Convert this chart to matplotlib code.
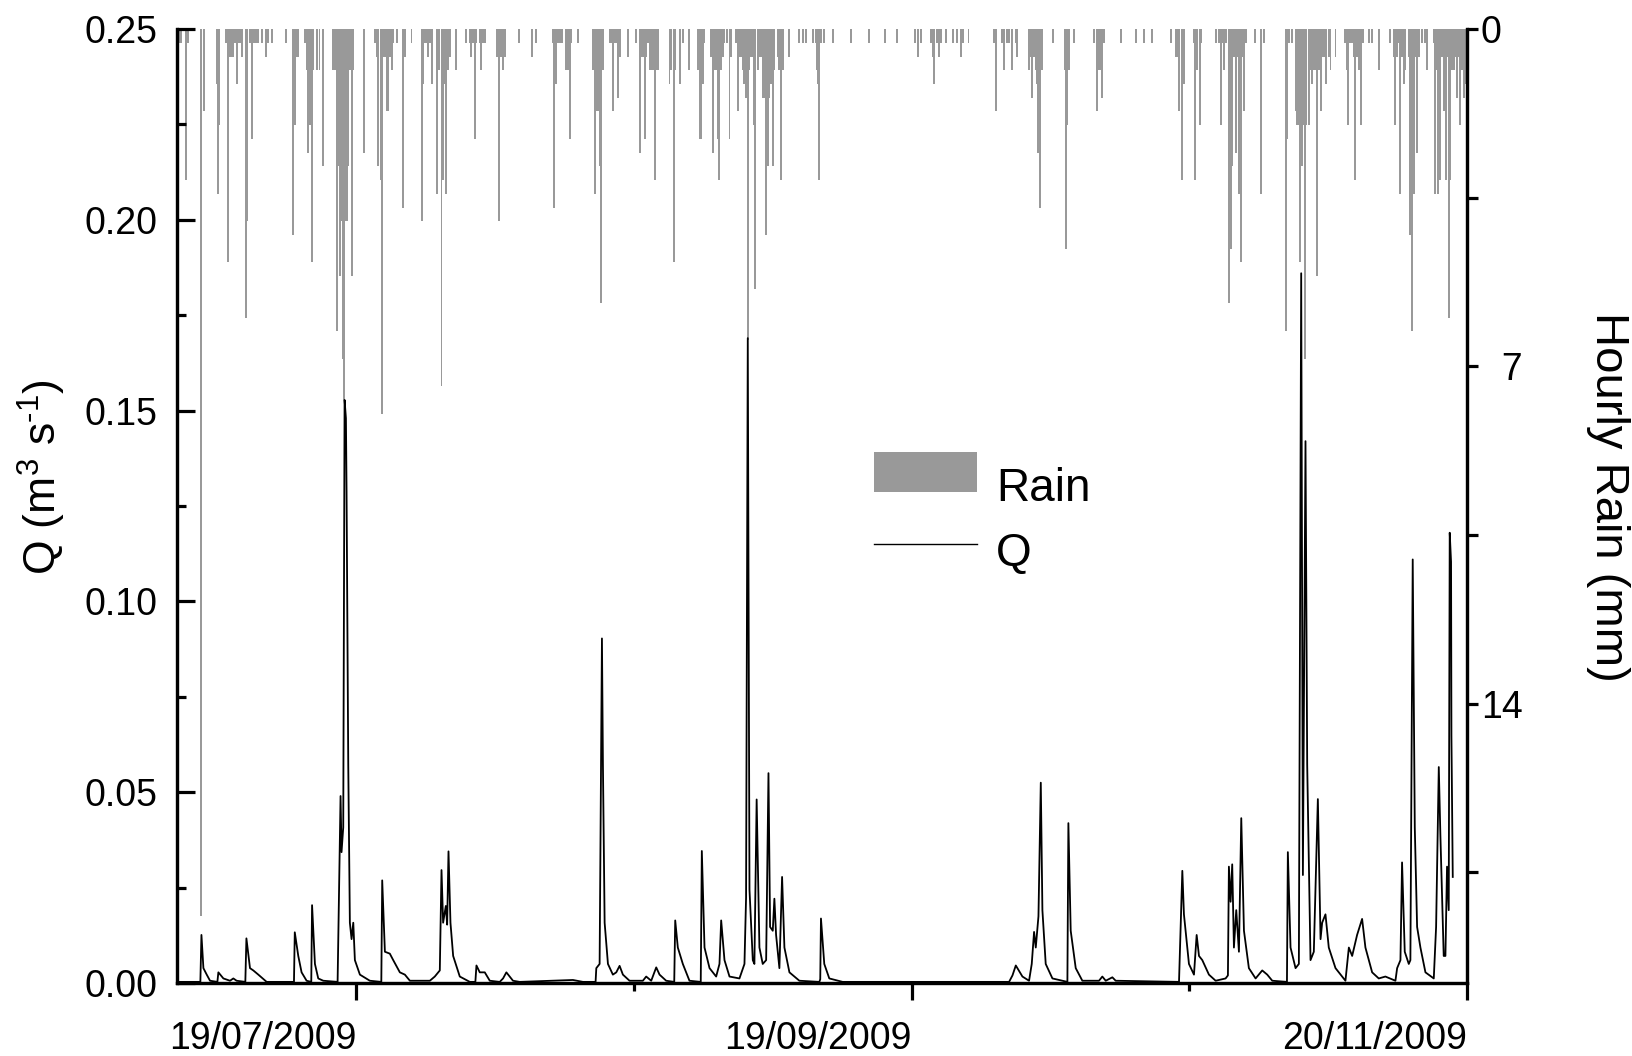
import numpy as np
import matplotlib
matplotlib.use("Agg")
import matplotlib.pyplot as plt
import matplotlib.dates as mdates
from matplotlib.patches import Patch, Rectangle
from matplotlib.lines import Line2D
from matplotlib.legend_handler import HandlerPatch, HandlerLine2D
from matplotlib.ticker import FixedLocator, FixedFormatter, MultipleLocator
from datetime import datetime

plt.rcParams['font.family'] = ['Liberation Sans', 'DejaVu Sans']
plt.rcParams['mathtext.fontset'] = 'custom'
plt.rcParams['mathtext.rm'] = 'Liberation Sans'
plt.rcParams['mathtext.it'] = 'Liberation Sans:italic'

# times are days after 29/06/2009 00:00
rain_day = [
    0.2, 0.45, 1.0, 1.2, 2.68, 3.0,
    4.42, 4.54, 4.65, 5.46, 5.65, 5.72, 5.91, 6.1, 6.28, 6.47, 6.65,
    6.84, 7.06, 7.25, 7.7, 7.84, 8.14, 8.36, 8.55, 8.8, 9.05,
    9.44, 9.89, 10.19, 10.56, 12.16, 12.9, 12.97, 13.16, 13.35, 13.53,
    14.28, 14.53, 14.65, 14.83, 15.02, 15.2, 15.6, 15.9, 16.32,
    17.43, 17.62, 17.81, 17.99, 18.18, 18.36, 18.48, 18.55, 18.66, 18.81, 18.92, 19.11, 19.29, 19.48, 19.67,
    20.9, 22.08, 22.27, 22.45, 22.71, 22.83, 23.01, 23.2, 23.38, 23.57, 23.75, 23.94, 24.13,
    24.5, 25.24, 25.43, 26.17, 27.29, 27.47, 27.66, 27.84, 28.03, 28.22, 28.51,
    28.96, 29.07, 29.26, 29.52, 29.7, 29.89, 30.07, 30.26, 30.45, 31.19, 32.23,
    32.68, 32.86, 33.05, 33.23, 33.42, 33.79, 33.98, 34.16, 34.35,
    35.75, 35.95, 36.15, 36.39, 36.6, 38.17, 39.62, 40.1,
    41.96, 42.07, 42.33, 42.52, 42.71, 43.0, 43.45, 43.64, 43.82, 44.01, 44.75,
    46.42, 46.61, 46.8, 46.98, 47.17, 47.35, 47.54,
    48.36, 48.51, 48.65, 48.84, 49.03, 49.21, 49.4, 50.33,
    51.26, 51.63, 51.81, 52.0, 52.19, 52.37, 52.56, 52.74, 52.93, 53.12, 53.3, 53.49, 53.67,
    54.97, 55.16, 55.42, 55.64, 56.09, 56.46, 57.2,
    58.13, 58.32, 58.51, 58.69, 58.88, 59.62, 59.81, 60.0, 60.18, 60.37, 60.55, 60.74, 60.92,
    61.11, 61.37, 61.67, 61.85,
    62.41, 62.6, 62.78, 62.97, 63.15, 63.34, 63.52, 63.71, 63.9, 64.08, 64.27, 64.45, 64.57,
    64.83, 65.01, 65.2, 65.38, 65.57, 65.76, 65.94, 66.13, 66.31, 66.5, 66.68,
    67.06, 67.24, 67.43, 67.61, 68.36, 69.47, 69.84, 70.22, 70.96, 71.33,
    71.4, 71.51, 71.62, 71.7, 71.88, 72.25, 73.18, 75.23, 77.27, 79.06, 80.32,
    82.4, 82.66, 83.03, 84.15, 84.34, 84.52, 84.78, 85.08, 85.26,
    85.82, 86.64, 87.12, 87.49, 87.75, 88.35,
    91.21, 91.4, 92.14, 92.33, 92.7, 92.89, 93.26, 93.63, 93.81,
    95.11, 95.3, 95.49, 95.67, 95.86, 96.05, 96.16, 96.34, 96.53, 97.79,
    99.13, 99.2, 99.39, 99.58, 100.13, 102.36, 102.74, 102.92, 103.11, 103.29, 103.48, 105.34, 107.01,
    107.94, 108.87, 110.92, 111.47, 111.66, 111.85, 112.14, 112.4,
    113.52, 113.63, 113.89, 114.15, 114.26,
    115.94, 116.31, 116.49, 116.68, 116.86, 117.05, 117.42, 117.61, 117.79, 117.98, 118.17, 118.35, 118.54, 118.72, 118.91, 119.1, 119.28,
    120.32, 120.95, 121.33,
    123.74, 123.82, 123.93, 124.11, 124.49, 124.86, 125.04, 125.23, 125.3, 125.41, 125.6, 125.79, 125.9, 126.08, 126.34,
    126.53, 126.72, 126.9, 127.09, 127.27, 127.46, 127.65, 127.83, 128.02, 128.31, 128.57, 128.76, 129.32,
    130.43, 130.62, 130.73, 130.99, 131.18, 131.36, 131.55, 131.73, 131.92, 132.18, 132.4, 133.04, 133.41, 134.15,
    135.45, 135.83, 136.01, 136.2, 136.38, 136.57, 136.75, 136.94, 137.12,
    137.5, 137.68, 137.87, 138.05, 138.24, 138.43, 138.61, 138.98, 139.28, 139.54,
    140.29, 140.4, 140.58, 140.77, 141.03, 141.22, 141.4, 141.66, 141.85, 141.96, 142.15,
    142.33, 142.52, 142.71, 142.89, 143.08, 143.26, 143.45, 143.63, 143.82, 143.93,
]
rain_mm = [
    0.29, 0.29, 3.14, 0.29, 18.4, 1.71,
    1.14, 3.42, 2.0, 0.29, 0.29, 4.84, 0.57, 0.57, 0.57, 0.29, 1.14,
    0.29, 0.29, 0.57, 5.99, 3.99, 0.29, 2.28, 0.29, 0.29, 0.29,
    0.29, 0.57, 0.29, 0.29, 0.29, 0.57, 4.28, 2.0, 0.57, 0.57,
    0.29, 0.86, 2.57, 2.0, 4.84, 0.86, 0.86, 0.86, 2.85,
    0.86, 0.86, 6.27, 2.85, 5.13, 3.99, 3.99, 6.84, 7.7, 3.99, 3.99, 2.85, 0.86, 5.13, 0.86,
    2.57, 0.29, 0.57, 2.85, 3.14, 7.98, 0.57, 0.57, 1.71, 1.71, 0.57, 0.86, 0.29,
    0.29, 3.71, 0.57, 0.29, 3.99, 1.14, 0.29, 0.29, 0.57, 0.29, 1.14,
    0.86, 3.42, 0.86, 7.41, 3.14, 1.14, 3.42, 0.86, 0.57, 0.86, 0.29,
    0.29, 0.57, 0.29, 2.28, 0.29, 0.29, 0.86, 0.29, 0.29,
    0.57, 3.99, 0.57, 0.86, 0.57, 0.29, 0.57, 0.29,
    0.29, 3.71, 1.14, 0.29, 0.29, 0.29, 0.86, 0.86, 2.28, 0.29, 0.29,
    0.86, 3.42, 1.71, 1.71, 2.85, 5.68, 0.86,
    0.29, 0.29, 1.71, 0.29, 0.29, 1.43, 0.57, 0.57,
    0.29, 2.57, 0.57, 0.57, 2.28, 0.57, 0.29, 0.86, 0.86, 0.86, 3.14, 0.86, 0.86,
    1.14, 0.86, 4.84, 0.86, 1.14, 0.29, 0.86,
    0.86, 2.28, 2.28, 1.14, 0.29, 0.57, 2.57, 0.86, 0.86, 2.28, 3.14, 0.86, 0.57,
    0.29, 0.29, 2.28, 0.57,
    0.29, 1.71, 0.57, 0.57, 0.86, 1.14, 1.43, 6.46, 0.86, 0.57, 0.57, 2.0, 5.4,
    0.86, 0.57, 0.57, 1.43, 1.43, 4.28, 2.85, 1.43, 1.14, 2.85, 0.86,
    0.57, 0.86, 3.14, 0.86, 0.57, 0.29, 0.29, 0.29, 0.29, 0.29,
    0.86, 1.14, 2.28, 3.14, 0.29, 0.29, 0.29, 0.29, 0.29, 0.29, 0.29,
    0.29, 0.57, 0.29, 0.29, 0.57, 1.14, 0.29, 0.57, 0.29,
    0.29, 0.29, 0.29, 0.57, 0.29, 0.29,
    0.29, 1.71, 0.29, 0.86, 0.29, 0.29, 0.86, 0.29, 0.57,
    0.86, 0.57, 1.43, 0.57, 0.86, 1.14, 2.57, 3.71, 0.86, 0.29,
    0.86, 4.56, 2.0, 0.86, 0.29, 0.29, 1.71, 0.86, 0.86, 1.43, 0.29, 0.29, 0.29,
    0.29, 0.29, 0.29, 0.57, 0.57, 1.71, 3.14, 1.14,
    0.29, 3.14, 0.86, 2.0, 0.29,
    0.29, 0.29, 2.0, 0.29, 0.86, 0.29, 5.68, 4.56, 2.85, 0.57, 2.57, 0.57, 3.42, 4.84, 0.57, 1.71, 0.29,
    0.29, 3.42, 0.29,
    0.29, 6.27, 2.28, 0.29, 0.29, 1.71, 2.0, 2.0, 4.56, 4.84, 2.85, 2.0, 6.84, 2.0, 2.0,
    0.86, 1.14, 0.86, 0.86, 5.13, 0.86, 1.71, 0.57, 0.57, 1.14, 0.57, 0.86, 0.57,
    0.29, 0.86, 2.0, 0.29, 0.29, 0.57, 3.14, 0.57, 0.86, 2.0, 0.29, 0.29, 0.29, 0.86,
    0.29, 0.57, 2.0, 0.57, 0.29, 3.42, 0.57, 1.14, 0.86,
    0.57, 4.28, 6.27, 3.42, 0.57, 2.57, 0.57, 0.29, 0.29, 0.86,
    0.29, 3.42, 0.86, 3.42, 3.14, 0.57, 1.71, 3.14, 0.57, 5.99, 3.14,
    0.86, 0.86, 0.57, 1.43, 0.57, 2.0, 0.86, 1.43, 1.14, 1.14,
]

q_day = [
    0.0, 2.6, 2.72, 2.94, 3.31, 3.68, 4.5, 4.61, 5.17, 5.91, 6.28, 6.65,
    7.62, 7.74, 8.14, 8.51, 9.07, 10.0, 13.05, 13.14, 13.53, 13.9, 14.46,
    14.98, 15.07, 15.39, 15.76, 16.32, 17.92, 18.25, 18.36, 18.55, 18.7,
    18.85, 18.92, 19.11, 19.29, 19.48, 19.67, 19.85, 20.41, 21.52,
    22.8, 22.9, 23.2, 23.75, 24.13, 24.87, 25.43, 25.99, 28.22, 28.77,
    29.33, 29.52, 29.7, 30.0, 30.15, 30.3, 30.52, 30.82, 31.56, 32.68,
    33.3, 33.42, 33.79, 34.35, 34.91, 36.02, 36.39, 36.76, 37.5, 38.25,
    44.19, 45.31, 46.72, 46.8, 47.17, 47.43, 47.54, 47.73, 48.1, 48.65,
    49.03, 49.4, 49.77, 50.51, 52.0, 52.37, 52.93, 53.49, 53.86, 54.6,
    55.5, 55.61, 55.9, 56.46, 57.2, 58.46, 58.58, 58.88, 59.44, 60.18,
    60.55, 60.74, 61.11, 61.67, 62.78, 63.34, 63.52, 63.71, 63.9, 64.27,
    64.45, 64.7, 65.01, 65.38, 65.76, 66.02, 66.2, 66.5, 66.68, 66.87,
    67.24, 67.54, 67.8, 68.36, 69.47, 71.7, 71.8, 71.88, 72.25, 72.81,
    74.3, 92.88, 93.26, 93.63, 94.37, 95.11, 95.41, 95.67, 95.86, 96.16,
    96.42, 96.6, 96.97, 97.72, 99.39, 99.5, 99.76, 100.32, 101.06,
    102.92, 103.29, 103.67, 104.41, 104.78, 111.85, 112.22, 112.4,
    112.96, 113.52, 113.82, 114.08, 114.45, 115.19, 115.94, 117.05,
    117.31, 117.42, 117.61, 117.79, 117.98, 118.24, 118.54, 118.8, 119.1,
    119.65, 120.4, 121.14, 121.7, 122.26, 123.9, 124.0, 124.3, 124.86,
    125.23, 125.49, 125.68, 125.97, 126.16, 126.53, 126.9, 127.35,
    127.65, 127.83, 128.2, 128.57, 129.32, 130.43, 130.81, 131.18,
    131.73, 132.29, 132.66, 133.41, 134.15, 134.89, 136.01, 136.2,
    136.57, 136.75, 137.05, 137.5, 137.68, 137.94, 138.17, 138.43,
    138.8, 139.36, 140.29, 140.55, 140.85, 141.03, 141.4, 141.59,
    141.77, 141.96, 142.07, 142.22, 142.26, 142.41,
]
q_val = [
    0.0003, 0.0003, 0.0126, 0.0039, 0.0022, 0.0006, 0.0003, 0.0028, 0.0012, 0.0006, 0.0012, 0.0006,
    0.0003, 0.0117, 0.0039, 0.0033, 0.0022, 0.0003, 0.0003, 0.0133, 0.0071, 0.0028, 0.0006,
    0.0003, 0.0204, 0.0050, 0.0012, 0.0006, 0.0003, 0.0490, 0.0343, 0.0408, 0.1528,
    0.1480, 0.1289, 0.0572, 0.0158, 0.0115, 0.0158, 0.0060, 0.0022, 0.0006,
    0.0003, 0.0269, 0.0082, 0.0077, 0.0060, 0.0028, 0.0022, 0.0006, 0.0006, 0.0017,
    0.0033, 0.0296, 0.0158, 0.0202, 0.0153, 0.0345, 0.0158, 0.0071, 0.0017, 0.0003,
    0.0003, 0.0046, 0.0028, 0.0028, 0.0006, 0.0003, 0.0012, 0.0028, 0.0006, 0.0003,
    0.0008, 0.0003, 0.0003, 0.0039, 0.0050, 0.0903, 0.0572, 0.0158, 0.0050, 0.0022,
    0.0028, 0.0045, 0.0022, 0.0006, 0.0006, 0.0017, 0.0006, 0.0041, 0.0022, 0.0006,
    0.0003, 0.0164, 0.0093, 0.0050, 0.0006, 0.0003, 0.0346, 0.0093, 0.0039, 0.0017,
    0.0050, 0.0164, 0.0060, 0.0017, 0.0012, 0.0050, 0.0224, 0.1690, 0.0245, 0.0060,
    0.0050, 0.0481, 0.0093, 0.0050, 0.0060, 0.0550, 0.0147, 0.0137, 0.0221, 0.0126,
    0.0039, 0.0278, 0.0093, 0.0028, 0.0006, 0.0003, 0.0010, 0.0169, 0.0050, 0.0012,
    0.0003, 0.0003, 0.0020, 0.0046, 0.0017, 0.0006, 0.0050, 0.0134, 0.0093, 0.0175,
    0.0525, 0.0191, 0.0050, 0.0012, 0.0003, 0.0419, 0.0137, 0.0039, 0.0006,
    0.0006, 0.0017, 0.0006, 0.0015, 0.0006, 0.0003, 0.0294, 0.0180,
    0.0050, 0.0022, 0.0126, 0.0071, 0.0060, 0.0022, 0.0006, 0.0012,
    0.0020, 0.0305, 0.0213, 0.0311, 0.0093, 0.0191, 0.0082, 0.0432, 0.0137,
    0.0039, 0.0012, 0.0033, 0.0022, 0.0006, 0.0003, 0.0343, 0.0093, 0.0039,
    0.0050, 0.1860, 0.0283, 0.1420, 0.0572, 0.0060, 0.0082, 0.0482,
    0.0115, 0.0158, 0.0180, 0.0093, 0.0039, 0.0006, 0.0093, 0.0071,
    0.0126, 0.0168, 0.0093, 0.0028, 0.0012, 0.0017, 0.0006, 0.0039,
    0.0060, 0.0316, 0.0082, 0.0050, 0.0060, 0.1110, 0.0408, 0.0147,
    0.0093, 0.0028, 0.0012, 0.0147, 0.0566, 0.0386, 0.0071, 0.0071,
    0.0305, 0.0191, 0.1180, 0.1104, 0.0648, 0.0278,
]

major_dates = [datetime(2009, 7, 19), datetime(2009, 9, 19), datetime(2009, 11, 20)]
minor_dates = [datetime(2009, 8, 19), datetime(2009, 10, 20)]
rain_ticks = [0, 7, 14]
rain_tick_labels = ['0', '\u20077', '14']

t0 = mdates.date2num(datetime(2009, 6, 29))
t_end = mdates.date2num(datetime(2009, 11, 20))
rain_x = t0 + np.array(rain_day)
q_x = t0 + np.array(q_day)

fig = plt.figure(figsize=(16.32, 10.56), dpi=100)
ax = fig.add_axes([0.1085, 0.0691, 0.7904, 0.9034])
ax2 = ax.twinx()

rain_grey = '#999999'
ax2.bar(rain_x, rain_mm, width=0.22, bottom=0, color=rain_grey, linewidth=0, align='center')
ax2.set_ylim(19.8, 0)

ax.plot(q_x, q_val, color='black', linewidth=1.3)
ax.set_ylim(0, 0.25)
ax.set_xlim(t0, t_end)

# Q drawn above the rain bars
ax.set_zorder(ax2.get_zorder() + 1)
ax.patch.set_visible(False)

for a in (ax, ax2):
    a.spines['top'].set_visible(False)
    for s in a.spines.values():
        s.set_linewidth(2.3)

ax.xaxis.set_major_locator(FixedLocator(mdates.date2num(major_dates)))
ax.xaxis.set_minor_locator(FixedLocator(mdates.date2num(minor_dates)))
ax.xaxis.set_major_formatter(mdates.DateFormatter('%d/%m/%Y'))
ax.tick_params(axis='x', which='major', direction='out', length=12.5, width=2.3,
               labelsize=27, pad=15)
ax.tick_params(axis='x', which='minor', direction='out', length=6, width=2.3)
for lbl in ax.get_xticklabels():
    lbl.set_ha('right')

ax.yaxis.set_major_locator(MultipleLocator(0.05))
ax.yaxis.set_minor_locator(MultipleLocator(0.025))
ax.yaxis.set_major_formatter(plt.FormatStrFormatter('%.2f'))
ax.tick_params(axis='y', which='major', direction='in', length=13, width=2.3,
               labelsize=27, pad=14)
ax.tick_params(axis='y', which='minor', direction='in', length=6.5, width=2.3)

ax2.yaxis.set_major_locator(FixedLocator(rain_ticks))
ax2.yaxis.set_major_formatter(FixedFormatter(rain_tick_labels))
ax2.yaxis.set_minor_locator(FixedLocator([3.5, 10.5, 17.5]))
ax2.tick_params(axis='y', which='major', direction='out', length=8, width=2.3,
                labelsize=27, pad=2)
ax2.tick_params(axis='y', which='minor', direction='out', length=8, width=2.3)

ax.set_ylabel('Q (m$^{3}$ s$^{\\text{-}1}$)', fontsize=32, ha='center', va='center')
ax.yaxis.set_label_coords(-0.105, 0.53)
ax2.set_ylabel('Hourly Rain (mm)', fontsize=34, rotation=270, ha='center', va='center')
ax2.yaxis.set_label_coords(1.109, 0.51)


def rain_key(legend, orig_handle, xdescent, ydescent, width, height, fontsize):
    return Rectangle((-xdescent, -ydescent + 0.35 * height), width, height)


class RaisedLine(HandlerLine2D):
    # legend line for Q sits a little above the middle of its text row
    def create_artists(self, legend, orig_handle, xdescent, ydescent, width,
                       height, fontsize, trans):
        return super().create_artists(legend, orig_handle, xdescent,
                                      ydescent - 0.25 * height, width, height,
                                      fontsize, trans)


q_key = Line2D([], [], color='black', linewidth=1.0)
handles = [Patch(facecolor=rain_grey, edgecolor='none'), q_key]
ax.legend(handles, ['Rain', 'Q'], loc='upper left', bbox_to_anchor=(0.54, 0.542),
          frameon=False, fontsize=33, handlelength=2.25, handleheight=0.95,
          handletextpad=0.42, labelspacing=0.42, borderpad=0, borderaxespad=0,
          handler_map={Patch: HandlerPatch(patch_func=rain_key),
                       q_key: RaisedLine()})

fig.savefig('out.png', dpi=100)
